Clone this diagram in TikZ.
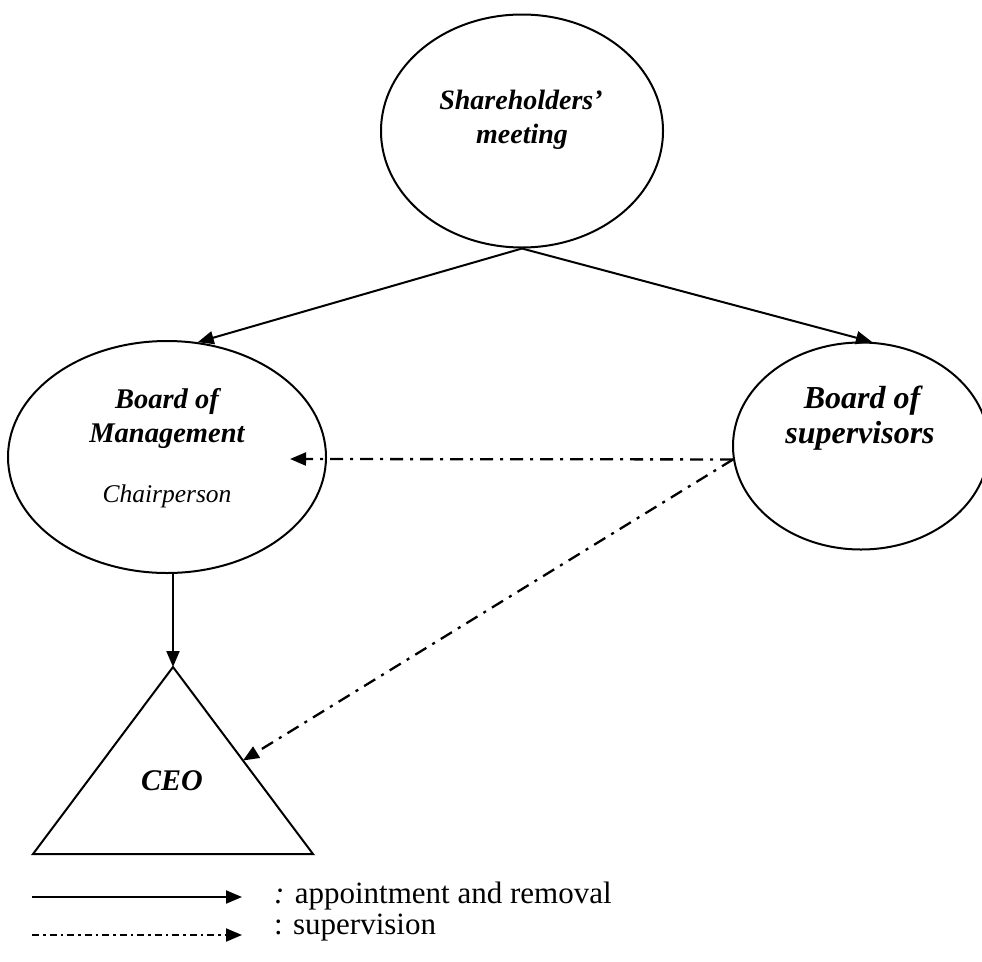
\documentclass[tikz,border=0pt]{standalone}
\usepackage{fontspec}
\setmainfont{Liberation Serif}
\usetikzlibrary{shapes.geometric,arrows.meta,calc}
\tikzset{
  oval/.style={draw, ellipse, line width=2pt, inner sep=0pt},
  lbl/.style={anchor=base, inner sep=0pt, font=\bfseries\itshape},
  conn/.style={line width=2pt, -{Triangle[length=16pt,width=13pt]}},
  dashdot/.style={conn, line width=2.3pt, dash pattern=on 13pt off 7pt on 3pt off 7pt},
  legdash/.style={conn, line width=2pt, dash pattern=on 7pt off 4pt on 2.5pt off 4pt},
}
\begin{document}
\begin{tikzpicture}[x=1pt,y=-1pt]
\useasboundingbox (0,0) rectangle (982,961);
% ellipses
\node[oval, minimum width=282pt, minimum height=233pt] (sh) at (522,131) {};
\node[oval, minimum width=318pt, minimum height=232pt] (bom) at (167,457) {};
\node[oval, minimum width=256pt, minimum height=207pt] (sup) at (861,446) {};
% texts
\node[lbl, font=\fontsize{28}{30}\selectfont\bfseries\itshape] (t1) at (521,109) {Shareholders’};
\node[lbl, font=\fontsize{28}{30}\selectfont\bfseries\itshape] (t2) at (522,143) {meeting};
\node[lbl, font=\fontsize{28.5}{30}\selectfont\bfseries\itshape] (t3) at (167,408) {Board of};
\node[lbl, font=\fontsize{28.5}{30}\selectfont\bfseries\itshape] (t4) at (167,442) {Management};
\node[lbl, font=\fontsize{25.5}{28}\selectfont\itshape] (t5) at (167,502) {Chairperson};
\node[lbl, font=\fontsize{32}{34}\selectfont\bfseries\itshape] (t6) at (862,408) {Board of};
\node[lbl, font=\fontsize{32}{34}\selectfont\bfseries\itshape] (t7) at (860,443) {supervisors};
% triangle
\coordinate (apex) at (173,667);
\coordinate (bl) at (33,854);
\coordinate (br) at (313,854);
\draw[line width=2pt, line join=miter] (apex) -- (br) -- (bl) -- cycle;
\node[lbl, font=\fontsize{30}{32}\selectfont\bfseries\itshape] (ceo) at (172,790) {CEO};
% connectors
\draw[conn] (sh.south) -- (bom.75);
\draw[conn] (sh.south) -- (sup.84);
\draw[conn] (bom.south -| apex) -- (apex);
\coordinate (suptip) at (290,459);
\coordinate (ceotip) at ($(apex)!0.5!(br)$);
\draw[dashdot] (sup.186) -- (suptip);
\draw[dashdot] (sup.186) -- (ceotip);
% legend
\coordinate (l1a) at (32,897);
\coordinate (l1b) at (242,897);
\coordinate (l2a) at (32,935);
\coordinate (l2b) at (242,935);
\draw[conn] (l1a) -- (l1b);
\draw[legdash] (l2a) -- (l2b);
\node[anchor=base west, inner sep=0pt, font=\fontsize{31}{33}\selectfont] (lg1) at (274,903) {\textit{:} appointment and removal};
\node[anchor=base west, inner sep=0pt, font=\fontsize{31}{33}\selectfont] (lg2) at (274,934) {: supervision};
\end{tikzpicture}
\end{document}
